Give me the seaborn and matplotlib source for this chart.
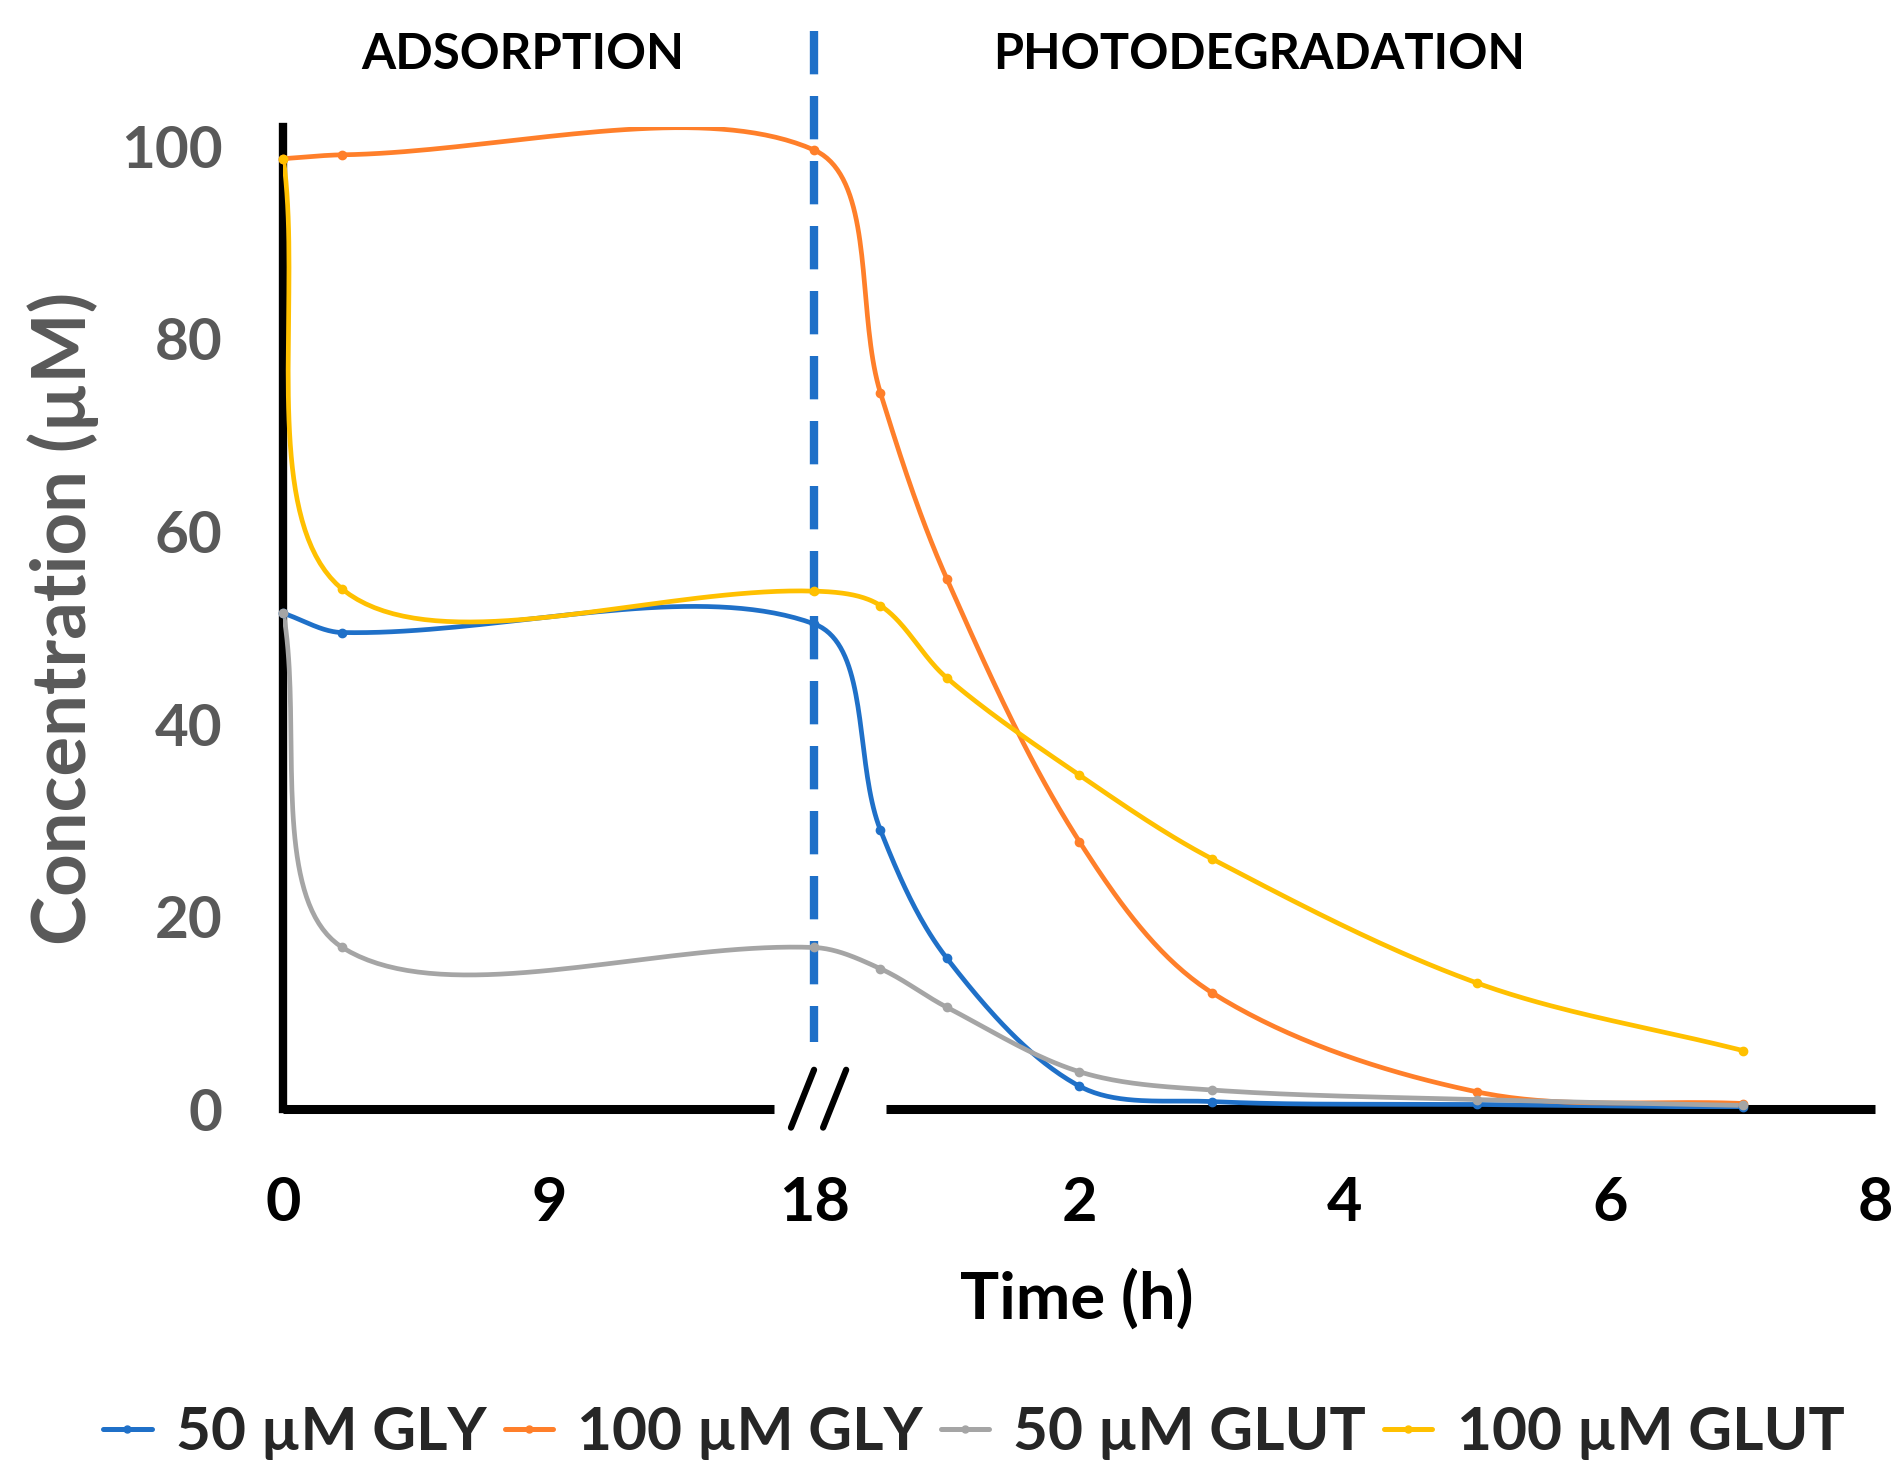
import numpy as np
import pandas as pd
import seaborn as sns
import matplotlib.pyplot as plt
from matplotlib.lines import Line2D

# sampling times: adsorption phase (dark) then photodegradation phase
ads_hours = [0, 2, 18]
photo_hours = [0.5, 1, 2, 3, 5, 7]
ads_ticks = [0, 9, 18]
photo_ticks = [2, 4, 6, 8]

series_names = ['50 µM GLY', '100 µM GLY', '50 µM GLUT', '100 µM GLUT']
gly_50 = [51.5, 49.5, 50.4, 29.0, 15.7, 2.4, 0.8, 0.5, 0.2]
gly_100 = [98.7, 99.1, 99.6, 74.4, 55.1, 27.8, 12.1, 1.8, 0.6]
glut_50 = [51.5, 16.8, 16.8, 14.6, 10.6, 3.9, 2.0, 1.0, 0.4]
glut_100 = [98.7, 54.0, 53.8, 52.3, 44.8, 34.7, 26.0, 13.1, 6.1]
colors = ['#1F70C8', '#FF7F2A', '#A5A5A5', '#FFC000']


def ads_pos(t):
    # 0-18 h of adsorption squeezed into two axis units
    return np.asarray(t, dtype=float) / 9.0


def photo_pos(t):
    # photodegradation starts at the break, two hours per axis unit
    return 2.0 + np.asarray(t, dtype=float) / 2.0


def smooth_curve(x, y, y_aspect, steps=40):
    # chord weighted bezier spline (Excel-like smoothed line), distances in screen space
    pts = np.column_stack([x, y])
    scr = pts * np.array([1.0, y_aspect])
    padded = np.vstack([pts[0], pts, pts[-1]])
    pad_scr = np.vstack([scr[0], scr, scr[-1]])
    s = np.linspace(0, 1, steps)[:, None]
    out = []
    for i in range(1, len(padded) - 2):
        p0, p1, p2, p3 = padded[i - 1], padded[i], padded[i + 1], padded[i + 2]
        d01 = np.linalg.norm(pad_scr[i] - pad_scr[i - 1])
        d12 = np.linalg.norm(pad_scr[i + 1] - pad_scr[i])
        d23 = np.linalg.norm(pad_scr[i + 2] - pad_scr[i + 1])
        c1 = p1 + (p2 - p0) * d12 / (d01 + d12) / 3
        c2 = p2 - (p3 - p1) * d12 / (d12 + d23) / 3
        seg = (1 - s) ** 3 * p1 + 3 * (1 - s) ** 2 * s * c1 + 3 * (1 - s) * s ** 2 * c2 + s ** 3 * p2
        out.append(seg if i == 1 else seg[1:])
    curve = np.vstack(out)
    return curve[:, 0], curve[:, 1]


x_pos = np.concatenate([ads_pos(ads_hours), photo_pos(photo_hours)])
break_x = ads_pos(18)

sns.set_style('white')
plt.rcParams['font.family'] = ['Lato', 'DejaVu Sans']

fig = plt.figure(figsize=(19.02, 14.84), dpi=100)
ax = fig.add_axes([0.149, 0.2525, 0.837, 0.662])
ax.set_xlim(0, 6)
ax.set_ylim(0, 102)

# screen aspect: pixels per y unit / pixels per x unit
bbox = ax.get_position()
y_aspect = (bbox.height * 14.84 / 102) / (bbox.width * 19.02 / 6)

handles = []
for name, vals, c in zip(series_names, [gly_50, gly_100, glut_50, glut_100], colors):
    cx, cy = smooth_curve(x_pos, vals, y_aspect)
    curve = pd.DataFrame({'x': cx, 'y': cy})
    sns.lineplot(data=curve, x='x', y='y', sort=False, estimator=None, color=c,
                 lw=3.4, ax=ax, legend=False, zorder=4)
    ax.plot(x_pos, vals, 'o', color=c, ms=6, zorder=5, clip_on=False)
    handles.append(Line2D([], [], color=c, lw=3.6, marker='o', ms=5))

# dashed separator between the two phases
ax.plot([break_x, break_x], [1.098, 0.068], transform=ax.get_xaxis_transform(),
        color='#1F70C8', lw=6, dashes=(5.2, 2.6), clip_on=False, zorder=3)

for sp in ['top', 'right', 'bottom']:
    ax.spines[sp].set_visible(False)
ax.spines['left'].set_linewidth(6)
ax.spines['left'].set_color('black')

# broken x axis with // marks
ax.plot([0, break_x - 0.15], [0, 0], color='black', lw=6.5, solid_capstyle='butt',
        clip_on=False, zorder=2)
ax.plot([break_x + 0.27, 6], [0, 0], color='black', lw=6.5, solid_capstyle='butt',
        clip_on=False, zorder=2)
for dx in [-0.087, 0.034]:
    ax.plot([break_x + dx, break_x + dx + 0.087], [-1.9, 4.1], color='black', lw=4.5,
            clip_on=False, zorder=2)

xt = np.concatenate([ads_pos(ads_ticks), photo_pos(photo_ticks)])
ax.set_xticks(xt)
ax.set_xticklabels([str(t) for t in ads_ticks + photo_ticks], fontsize=44,
                   fontweight='bold', color='black')
ax.set_yticks([0, 20, 40, 60, 80, 100])
ax.set_yticklabels(['0', '20', '40', '60', '80', '100'], fontsize=42,
                   fontweight='bold', color='#595959')
ax.tick_params(axis='x', length=0, pad=47)
ax.tick_params(axis='y', length=0, pad=44)
ax.set_xlabel('')
ax.set_ylabel('')

fig.text(0.0333, 0.5836, 'Concentration (µM)', rotation=90, ha='center', va='center',
         fontsize=53.5, fontweight='bold', color='#595959')
fig.text(0.566, 0.1246, 'Time (h)', ha='center', va='center', fontsize=47,
         fontweight='bold', color='black')
fig.text(0.275, 0.963, 'ADSORPTION', ha='center', va='center', fontsize=35.5,
         fontweight='bold', color='black')
fig.text(0.662, 0.963, 'PHOTODEGRADATION', ha='center', va='center', fontsize=35,
         fontweight='bold', color='black')

fig.legend(handles, series_names, loc='center', bbox_to_anchor=(0.512, 0.0344), ncol=4,
           frameon=False, prop={'size': 43.5, 'weight': 'bold'}, handlelength=0.8,
           handletextpad=0.4, columnspacing=0.3)

fig.savefig('out.png', dpi=100)
